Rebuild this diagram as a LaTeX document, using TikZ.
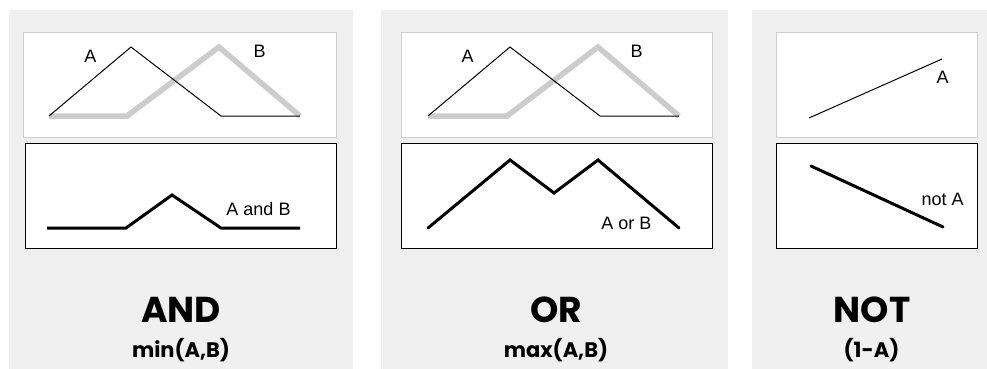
\documentclass[tikz,border=0pt]{standalone}
\usepackage{fontspec}
\setmainfont{Liberation Sans}
\newfontfamily\headfont{Poppins}[UprightFont=* Bold]
\definecolor{panelbg}{HTML}{F0F0F0}
\definecolor{lightborder}{HTML}{CFCFCF}
\definecolor{curveB}{HTML}{CCCCCC}
\begin{document}
\begin{tikzpicture}[x=1pt,y=-1pt,
  panel/.style={fill=panelbg,draw=none},
  inbox/.style={fill=white,draw=lightborder,line width=0.8pt},
  outbox/.style={fill=white,draw=black,line width=1pt},
  curvea/.style={draw=black,line width=1pt,line join=miter},
  curveb/.style={draw=curveB,line width=5.5pt,line join=miter},
  result/.style={draw=black,line width=3pt,line join=miter,line cap=round},
  lbl/.style={font=\fontsize{18}{20}\selectfont,inner sep=0pt,anchor=center},
  head/.style={font=\headfont\fontsize{36}{40}\selectfont,inner sep=0pt,anchor=base},
  sub/.style={font=\headfont\fontsize{21}{24}\selectfont,inner sep=0pt,anchor=base}]
\useasboundingbox (0,0) rectangle (987,369);
\fill[white] (0,0) rectangle (987,369);
% panels
\path[panel] (9,10) rectangle (353,369);
\path[panel] (381,10) rectangle (728,369);
\path[panel] (752,10) rectangle (987,369);
% ---- AND ----
\path[inbox] (23.5,32.5) rectangle (336.5,137.5);
\path[outbox] (25,143.5) rectangle (336,248.5);
\draw[curveb] (49,116) -- (127,116) -- (219,47) -- (300,116);
\draw[curvea] (49,116) -- (131,47) -- (221,116) -- (300,116);
\node[lbl] (a1) at (90.5,56.5) {A};
\node[lbl] (b1) at (259.5,51) {B};
\draw[result,line cap=butt] (47,228) -- (126,228) -- (172,195) -- (221,228) -- (300,228);
\node[lbl] (ab) at (258.5,209) {A and B};
\node[head] (andh) at (181,322) {AND};
\node[sub] (andf) at (181,357) {min(A,B)};
% ---- OR ----
\path[inbox] (401.5,32.5) rectangle (712.5,137.5);
\path[outbox] (401,143.5) rectangle (712,248.5);
\draw[curveb] (428,116) -- (507,116) -- (598,47) -- (679,116);
\draw[curvea] (428,116) -- (510,47) -- (600,116) -- (679,116);
\node[lbl] (a2) at (467.5,56.5) {A};
\node[lbl] (b2) at (636.5,51) {B};
\draw[result] (428,228) -- (510,160) -- (554,193) -- (598,160) -- (679,228);
\node[lbl] (aob) at (626.5,223.5) {A or B};
\node[head] (orh) at (556,322) {OR};
\node[sub] (orf) at (556,357) {max(A,B)};
% ---- NOT ----
\path[inbox] (776.5,32.5) rectangle (977.5,137.5);
\path[outbox] (776,143.5) rectangle (977,248.5);
\draw[curvea] (809,118) -- (942,59);
\node[lbl] (a3) at (942.5,77.5) {A};
\draw[result] (811,166) -- (943,227);
\node[lbl] (na) at (942.5,199) {not A};
\node[head] (noth) at (872,322) {NOT};
\node[sub] (notf) at (871.5,357) {(1-A)};
\end{tikzpicture}
\end{document}
